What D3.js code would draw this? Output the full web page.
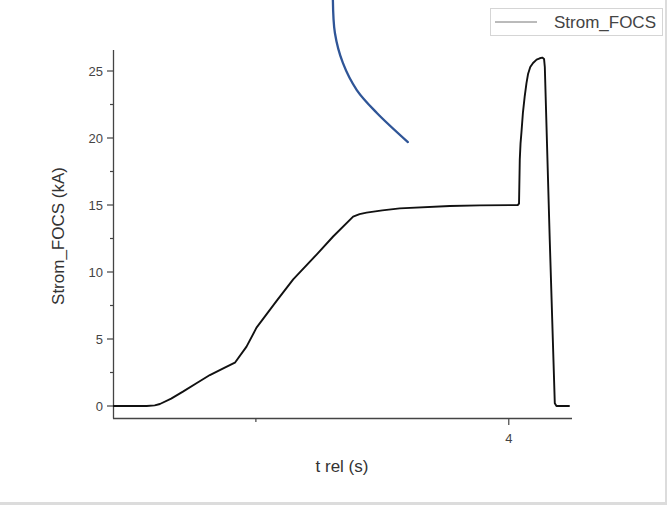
<!DOCTYPE html>
<html>
<head>
<meta charset="utf-8">
<script src="https://cdn.jsdelivr.net/npm/d3@7"></script>
<style>
  body { margin: 0; background: #fff; }
  svg { display: block; font-family: "Liberation Sans", Arial, sans-serif; }
</style>
</head>
<body>
<svg id="chart" width="667" height="505"></svg>
<script>
// values
var timeS = [0.87, 1.136, 1.2, 1.241, 1.33, 1.423, 1.53, 1.636, 1.75, 1.834, 1.926, 2.005, 2.164, 2.295, 2.48, 2.611, 2.769, 2.82, 2.875, 3.0, 3.138, 3.534, 3.771, 4.071,
             4.081, 4.087, 4.093, 4.1, 4.112, 4.126, 4.14, 4.153, 4.17, 4.192, 4.22, 4.245, 4.265, 4.279, 4.285, 4.324, 4.364, 4.377, 4.482];
var stromKA = [0, 0, 0.05, 0.15, 0.55, 1.07, 1.7, 2.31, 2.85, 3.23, 4.43, 5.85, 7.85, 9.45, 11.3, 12.65, 14.13, 14.32, 14.43, 14.6, 14.75, 14.92, 14.97, 15.0,
               15.1, 18.4, 19.6, 20.4, 21.9, 23.1, 24.1, 24.8, 25.3, 25.6, 25.85, 25.95, 26.0, 25.9, 25.3, 12.4, 0.2, 0, 0];

var yTicks = [0, 5, 10, 15, 20, 25];
var xTicks = [4];
var xMinor = [2];

// hand drawn blue stroke, in data units
var noteT = [2.609, 2.625, 2.688, 2.798, 2.957, 3.202];
var noteV = [30.3, 27.84, 25.6, 23.58, 21.87, 19.7];

var svg = d3.select("#chart");

// frame strips at right / bottom
svg.append("rect").attr("x", 665).attr("y", 0).attr("width", 2).attr("height", 505).style("fill", "#dcdcdc");
svg.append("rect").attr("x", 0).attr("y", 502).attr("width", 667).attr("height", 3).style("fill", "#dcdcdc");

var x = d3.scaleLinear().domain([0.87, 4.5]).range([113, 572]);
var y = d3.scaleLinear().domain([0, 25]).range([406, 71]);
var yBottom = 418, yTop = 50;

var axisColor = "#444";

// y axis
var ga = svg.append("g");
ga.append("line").attr("x1", 113.5).attr("x2", 113.5).attr("y1", yTop).attr("y2", yBottom + 0.5)
  .style("stroke", axisColor).style("stroke-width", 1.3);
d3.range(0, 27.5, 2.5).forEach(function(v) {
  var major = v % 5 === 0;
  ga.append("line").attr("x1", 113).attr("x2", major ? 107 : 110)
    .attr("y1", y(v)).attr("y2", y(v)).style("stroke", axisColor).style("stroke-width", 1.2);
});
yTicks.forEach(function(v) {
  ga.append("text").attr("x", 103).attr("y", y(v)).attr("dy", "0.36em")
    .attr("text-anchor", "end").style("font-size", "13px").style("fill", "#444").text(v);
});

// x axis
ga.append("line").attr("x1", 113).attr("x2", 572).attr("y1", yBottom + 0.5).attr("y2", yBottom + 0.5)
  .style("stroke", axisColor).style("stroke-width", 1.3);
xMinor.forEach(function(v) {
  ga.append("line").attr("x1", x(v)).attr("x2", x(v)).attr("y1", yBottom).attr("y2", yBottom + 4)
    .style("stroke", axisColor).style("stroke-width", 1.2);
});
xTicks.forEach(function(v) {
  ga.append("line").attr("x1", x(v)).attr("x2", x(v)).attr("y1", yBottom).attr("y2", yBottom + 7)
    .style("stroke", axisColor).style("stroke-width", 1.2);
  ga.append("text").attr("x", x(v)).attr("y", 443).attr("text-anchor", "middle")
    .style("font-size", "13px").style("fill", "#444").text(v);
});

// axis titles
svg.append("text").attr("x", 342).attr("y", 472).attr("text-anchor", "middle")
  .style("font-size", "17px").style("fill", "#333").text("t rel (s)");
svg.append("text").attr("transform", "translate(64,236) rotate(-90)").attr("text-anchor", "middle")
  .style("font-size", "17px").style("fill", "#333").text("Strom_FOCS (kA)");

// data line
var pts = timeS.map(function(t, i) { return [t, stromKA[i]]; });
var line = d3.line().x(function(d) { return x(d[0]); }).y(function(d) { return y(d[1]); });
svg.append("path").datum(pts).attr("d", line)
  .style("fill", "none").style("stroke", "#111").style("stroke-width", 1.9).style("stroke-linejoin", "round");

// blue annotation stroke
var note = noteT.map(function(t, i) { return [t, noteV[i]]; });
svg.append("path").datum(note)
  .attr("d", d3.line().x(function(d) { return x(d[0]); }).y(function(d) { return y(d[1]); }).curve(d3.curveCatmullRom))
  .style("fill", "none").style("stroke", "#2f5597").style("stroke-width", 2.3).style("stroke-linecap", "round");

// legend
var lg = svg.append("g");
lg.append("rect").attr("x", 490.5).attr("y", 8.5).attr("width", 172).attr("height", 27)
  .style("fill", "#fff").style("stroke", "#aaa").style("stroke-dasharray", "1,1");
lg.append("line").attr("x1", 495).attr("x2", 537).attr("y1", 22).attr("y2", 22)
  .style("stroke", "#777").style("stroke-width", 1);
lg.append("text").attr("x", 656).attr("y", 28).attr("text-anchor", "end")
  .style("font-size", "17px").style("fill", "#444").text("Strom_FOCS");
</script>
</body>
</html>
